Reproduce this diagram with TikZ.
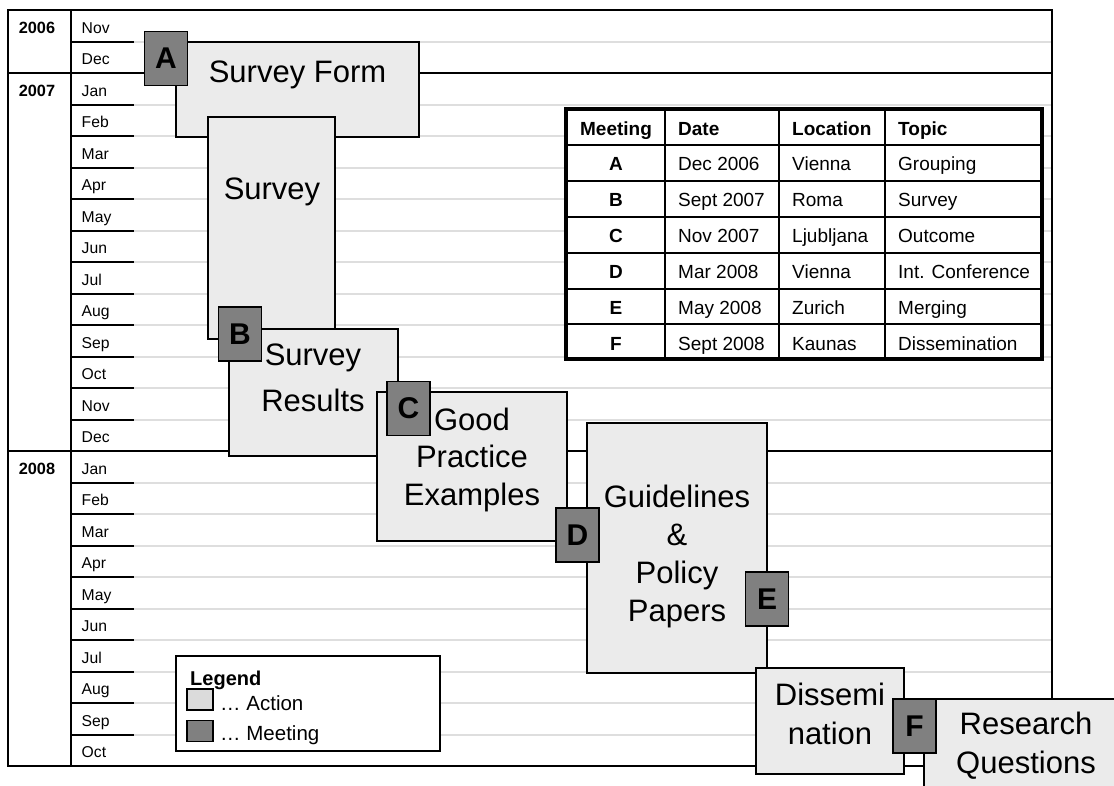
\documentclass[tikz,border=0pt]{standalone}
\usepackage{fontspec}
\setmainfont{Liberation Sans}
\begin{document}
\begin{tikzpicture}[
    x=1pt, y=-1pt,
    frameline/.style={line width=2pt, black},
    monthline/.style={line width=2pt, black!13},
    month/.style={anchor=base west, inner sep=0pt, font=\fontsize{15.7}{18}\selectfont},
    yearlabel/.style={anchor=base, inner sep=0pt, font=\bfseries\fontsize{16.3}{18}\selectfont},
    actionbox/.style={rectangle, draw, line width=1.4pt, fill=black!8, inner sep=0pt},
    meetbox/.style={rectangle, draw, line width=1.4pt, fill=black!50, minimum width=43pt, minimum height=54pt, inner sep=0pt, font=\bfseries\fontsize{30}{30}\selectfont},
    boxtext/.style={align=center, inner sep=0pt, font=\fontsize{31}{#1}\selectfont},
    boxtext/.default=37.5,
    tabcell/.style={anchor=base west, inner sep=0pt, font=\fontsize{19}{20}\selectfont},
    tabhead/.style={tabcell, font=\bfseries\fontsize{19}{20}\selectfont},
]
\useasboundingbox (0,0) rectangle (1114,785);
\clip (0,0) rectangle (1114,785);

% month grid
\foreach \k in {1,...,23} {
  \draw[monthline] (134,{10+31.5*\k}) -- (1052,{10+31.5*\k});
  \draw[frameline] (71,{10+31.5*\k}) -- (134,{10+31.5*\k});
}
\draw[frameline] (8,10) rectangle (1052,766);
\draw[frameline] (71,10) -- (71,766);
\draw[frameline] (8,73) -- (1052,73);
\draw[frameline] (8,451) -- (1052,451);

\node[yearlabel] (y2006) at (37,33.3) {2006};
\node[yearlabel] (y2007) at (37,96.3) {2007};
\node[yearlabel] (y2008) at (37,474.3) {2008};
\foreach \mon [count=\i from 0] in {Nov,Dec,Jan,Feb,Mar,Apr,May,Jun,Jul,Aug,Sep,Oct,Nov,Dec,Jan,Feb,Mar,Apr,May,Jun,Jul,Aug,Sep,Oct}
  \node[month] (mon\i) at (81.5,{33.3+31.5*\i}) {\mon};

% actions
\node[actionbox, minimum width=243pt, minimum height=95pt]  (formbox)  at (297.5,89.5) {};
\node[actionbox, minimum width=127pt, minimum height=222pt] (survbox)  at (271.5,228) {};
\node[actionbox, minimum width=169pt, minimum height=127pt] (resbox)   at (313.5,392.5) {};
\node[actionbox, minimum width=190pt, minimum height=149pt] (goodbox)  at (472,466.5) {};
\node[actionbox, minimum width=180pt, minimum height=250pt] (guidebox) at (677,548) {};
\node[actionbox, minimum width=148pt, minimum height=106pt] (dissbox)  at (830,721) {};
\node[actionbox, minimum width=210pt, minimum height=106pt] (rqbox)    at (1029,752) {};

\node[boxtext, anchor=base] (formtxt) at (297.5,82) {Survey Form};
\node[boxtext, anchor=base] (survtxt) at (272,199) {Survey};
\node[boxtext=45.7] (restxt)   at (313,378) {Survey\\Results};
\node[boxtext=37.5] (goodtxt)  at (472,459.7) {Good\\Practice\\Examples};
\node[boxtext=38.1] (guidetxt) at (677,556.7) {Guidelines\\\&\\Policy\\Papers};
\node[boxtext=39]   (disstxt)  at (830,713.8) {Dissemi\\nation};
\node[boxtext=38.3] (rqtxt)    at (1026,745.7) {Research\\Questions};

% meetings
\node[meetbox] (meetA) at (166,58.5) {A};
\node[meetbox] (meetB) at (240,334) {B};
\node[meetbox] (meetC) at (408.5,408.5) {C};
\node[meetbox] (meetD) at (577.5,535) {D};
\node[meetbox] (meetE) at (767,599) {E};
\node[meetbox] (meetF) at (914.5,726) {F};

% meeting table
\fill[white] (566,109) rectangle (1042,359);
\foreach \yy in {145,181,217,253,289,324}
  \draw[line width=1.5pt] (566,\yy) -- (1042,\yy);
\foreach \xx in {665,779,885}
  \draw[line width=1.5pt] (\xx,109) -- (\xx,359);
\draw[line width=4pt] (566,109) rectangle (1042,359);

\node[tabhead, anchor=base] (thmeet) at (616,135) {Meeting};
\node[tabhead] (thdate) at (678,135) {Date};
\node[tabhead] (thloc)  at (792,135) {Location};
\node[tabhead] (thtop)  at (898,135) {Topic};
\foreach \m/\d/\l/\t [count=\r] in {A/Dec 2006/Vienna/Grouping, B/Sept 2007/Roma/Survey, C/Nov 2007/Ljubljana/Outcome, D/Mar 2008/Vienna/Int. Conference, E/May 2008/Zurich/Merging, F/Sept 2008/Kaunas/Dissemination} {
  \node[tabhead, anchor=base] (tm\r) at (616,{134+36*\r}) {\m};
  \node[tabcell] (td\r) at (678,{134+36*\r}) {\d};
  \node[tabcell] (tl\r) at (792,{134+36*\r}) {\l};
  \node[tabcell] (tt\r) at (898,{134+36*\r}) {\t};
}

% legend
\node[rectangle, draw, line width=1.4pt, fill=white, minimum width=264pt, minimum height=95pt] (legbox) at (308,703.5) {};
\node[anchor=base west, inner sep=0pt, font=\bfseries\fontsize{20}{20}\selectfont] (legtitle) at (190,685) {Legend};
\node[rectangle, draw, line width=1.4pt, fill=black!14, minimum width=26pt, minimum height=21pt, inner sep=0pt] (legact) at (200,699.5) {};
\node[rectangle, draw, line width=1.4pt, fill=black!50, minimum width=26pt, minimum height=21pt, inner sep=0pt] (legmeet) at (200,731) {};
\node[anchor=base west, inner sep=0pt, font=\fontsize{20.5}{22}\selectfont] (legacttxt) at (220,710) {… Action};
\node[anchor=base west, inner sep=0pt, font=\fontsize{20.5}{22}\selectfont] (legmeettxt) at (220,740) {… Meeting};
\end{tikzpicture}
\end{document}
